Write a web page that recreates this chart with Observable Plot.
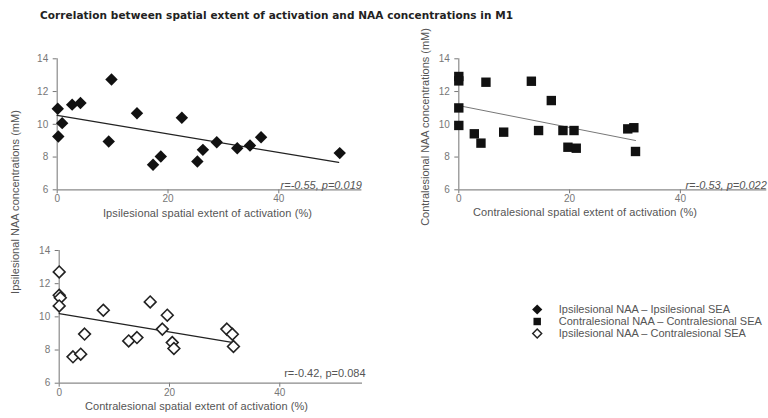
<!DOCTYPE html>
<html><head><meta charset="utf-8">
<script src="https://cdn.jsdelivr.net/npm/d3@7"></script>
<script src="https://cdn.jsdelivr.net/npm/@observablehq/plot@0.6"></script>
<style>
body{margin:0;background:#fff;}
#root{position:relative;width:768px;height:418px;overflow:hidden;font-family:"Liberation Sans",Arial,sans-serif;background:#fff;}
.abs{position:absolute;white-space:nowrap;line-height:1;}
.title{font-family:"DejaVu Sans",sans-serif;font-weight:bold;font-size:10.5px;color:#222;transform:translateY(-50%);}
.lbl{color:#555;font-size:11px;transform:translate(-50%,-50%);}
.ylbl{color:#555;font-size:11px;transform:translate(-50%,-50%) rotate(-90deg);}
.plotbox{position:absolute;}
</style></head><body><div id="root"></div>
<script>
const titleText = "Correlation between spatial extent of activation and NAA concentrations in M1";
const yTicks = [6, 8, 10, 12, 14];
const xTicks = [0, 20, 40];

// Panel 1: Ipsilesional NAA vs Ipsilesional SEA
const ipsiSEA1 = [0.1, 0.2, 0.9, 2.7, 4.2, 9.8, 9.3, 14.4, 17.3, 18.7, 22.5, 25.3, 26.3, 28.8, 32.5, 34.8, 36.8, 51.0];
const ipsiNAA1 = [10.95, 9.25, 10.07, 11.2, 11.3, 12.74, 8.95, 10.68, 7.53, 8.03, 10.4, 7.73, 8.44, 8.9, 8.54, 8.71, 9.21, 8.24];
const fit1X = [0, 50.8];
const fit1Y = [10.54, 7.67];
const note1 = ["r=-0.55, p=0.019"];
const xLabel1 = "Ipsilesional spatial extent of activation (%)";
const yLabel1 = "Ipsilesional NAA concentrations (mM)";

// Panel 2: Contralesional NAA vs Contralesional SEA
const contraSEA2 = [0, 0, 0, 0, 2.8, 4.0, 4.9, 8.1, 13.1, 14.4, 16.7, 18.8, 19.7, 20.8, 21.2, 30.5, 31.6, 31.9];
const contraNAA2 = [12.92, 12.65, 11.0, 9.93, 9.42, 8.85, 12.57, 9.52, 12.63, 9.62, 11.45, 9.62, 8.6, 9.62, 8.54, 9.72, 9.79, 8.34];
const fit2X = [0, 31.9];
const fit2Y = [11.14, 9.01];
const note2 = ["r=-0.53, p=0.022"];
const xLabel2 = "Contralesional spatial extent of activation (%)";
const yLabel2 = "Contralesional NAA concentrations (mM)";

// Panel 3: Ipsilesional NAA vs Contralesional SEA
const contraSEA3 = [0, 0, 0.2, 0, 2.5, 3.9, 4.6, 8.0, 12.6, 14.1, 16.5, 18.7, 19.6, 20.5, 20.8, 30.4, 31.4, 31.6];
const ipsiNAA3 = [12.71, 11.3, 11.15, 10.66, 7.59, 7.75, 8.96, 10.4, 8.55, 8.75, 10.9, 9.26, 10.1, 8.45, 8.09, 9.26, 8.95, 8.21];
const fit3X = [0, 31.6];
const fit3Y = [10.2, 8.45];
const note3 = ["r=-0.42, p=0.084"];
const xLabel3 = "Contralesional spatial extent of activation (%)";

// Legend
const legendLabels = ["Ipsilesional NAA \u2013 Ipsilesional SEA", "Contralesional NAA \u2013 Contralesional SEA", "Ipsilesional NAA \u2013 Contralesional SEA"];

const root = document.getElementById("root");
const FONT = "'Liberation Sans', Arial, sans-serif";

function addDiv(cls, text, left, top, targetWidth) {
  const d = document.createElement("div");
  d.className = "abs " + cls;
  d.textContent = text;
  d.style.left = left + "px";
  d.style.top = top + "px";
  root.appendChild(d);
  if (targetWidth) {
    const w = d.offsetWidth;
    if (w > 0) d.style.letterSpacing = ((targetWidth - w) / text.length).toFixed(3) + "px";
  }
  return d;
}

function panel(o) {
  const pts = o.xs.map((x, i) => ({x, y: o.ys[i]}));
  const fit = o.fitX.map((x, i) => ({x, y: o.fitY[i]}));
  const svg = Plot.plot({
    width: o.width, height: o.height,
    marginTop: o.mt, marginBottom: o.mb, marginLeft: o.ml, marginRight: o.mr,
    style: {background: "transparent", color: "#777", fontSize: "10px", fontFamily: FONT, overflow: "visible"},
    x: {domain: [0, o.xmax], ticks: xTicks, tickSize: 4, tickPadding: 1.5, label: null},
    y: {domain: [6, 14], ticks: yTicks, tickSize: 4, tickPadding: 5, label: null},
    marks: [
      Plot.ruleX([0], {y1: 6, y2: 14, stroke: "#8a8a8a", strokeWidth: 1.2}),
      Plot.ruleY([6], {x1: 0, x2: o.xmax, stroke: "#8a8a8a", strokeWidth: 1.2}),
      Plot.line(fit, {x: "x", y: "y", stroke: o.fitColor, strokeWidth: o.fitWidth}),
      Plot.dot(pts, {x: "x", y: "y", symbol: o.symbol, r: o.r, fill: o.fill, stroke: o.stroke, strokeWidth: o.sw}),
      Plot.text(o.note, {frameAnchor: "bottom-right", text: d => d, dx: o.noteDx, dy: o.noteDy, fill: "#555", fontSize: 11, fontStyle: o.italic ? "italic" : "normal"})
    ]
  });
  const box = document.createElement("div");
  box.className = "plotbox";
  box.style.left = o.left + "px";
  box.style.top = o.top + "px";
  box.appendChild(svg);
  root.appendChild(box);
}

addDiv("title", titleText, 40, 15, 473);

panel({left: 0, top: 0, width: 380, height: 225, mt: 58.3, mb: 35.7, ml: 56.7, mr: 18.6, xmax: 55,
  xs: ipsiSEA1, ys: ipsiNAA1, symbol: "diamond2", r: 5.6, fill: "#111", stroke: "none", sw: 0,
  fitX: fit1X, fitY: fit1Y, fitColor: "#222", fitWidth: 1.3, note: note1, noteDx: 0, noteDy: -1, italic: true});

panel({left: 380, top: 0, width: 388, height: 225, mt: 58.3, mb: 35.7, ml: 78.3, mr: 1.7, xmax: 55.6,
  xs: contraSEA2, ys: contraNAA2, symbol: "square", r: 5.3, fill: "#111", stroke: "none", sw: 0,
  fitX: fit2X, fitY: fit2Y, fitColor: "#777", fitWidth: 1, note: note2, noteDx: 0, noteDy: -1, italic: true});

panel({left: 0, top: 220, width: 380, height: 198, mt: 30, mb: 35.3, ml: 58.7, mr: 18, xmax: 55,
  xs: contraSEA3, ys: ipsiNAA3, symbol: "diamond2", r: 5.3, fill: "white", stroke: "#222", sw: 1.6,
  fitX: fit3X, fitY: fit3Y, fitColor: "#222", fitWidth: 1.3, note: note3, noteDx: 3, noteDy: -6, italic: false});

addDiv("lbl", xLabel1, 207.5, 212.5, 209);
addDiv("lbl", xLabel2, 585, 212, 224);
addDiv("lbl", xLabel3, 196.5, 406, 223);
addDiv("ylbl", yLabel1, 15, 202, 184);
addDiv("ylbl", yLabel2, 425, 127, 198);

// Legend
const legendSvg = Plot.plot({
  width: 248, height: 70, marginTop: 0, marginBottom: 0, marginLeft: 16.7, marginRight: 0,
  style: {background: "transparent", fontFamily: FONT, overflow: "visible"},
  x: {domain: [0, 1], axis: null},
  y: {domain: legendLabels, type: "point", range: [16.7, 55], axis: null},
  marks: [
    Plot.dot([legendLabels[0]], {x: 0, y: d => d, symbol: "diamond2", r: 4.6, fill: "#111"}),
    Plot.dot([legendLabels[1]], {x: 0, y: d => d, symbol: "square", r: 4.2, fill: "#111"}),
    Plot.dot([legendLabels[2]], {x: 0, y: d => d, symbol: "diamond2", r: 4, fill: "white", stroke: "#222", strokeWidth: 1.5}),
    Plot.text(legendLabels, {x: 0, y: d => d, text: d => d, dx: 21.6, textAnchor: "start", fill: "#555", fontSize: 11})
  ]
});
const lb = document.createElement("div");
lb.className = "plotbox";
lb.style.left = "520px";
lb.style.top = "285px";
lb.appendChild(legendSvg);
root.appendChild(lb);
</script>
</body></html>
